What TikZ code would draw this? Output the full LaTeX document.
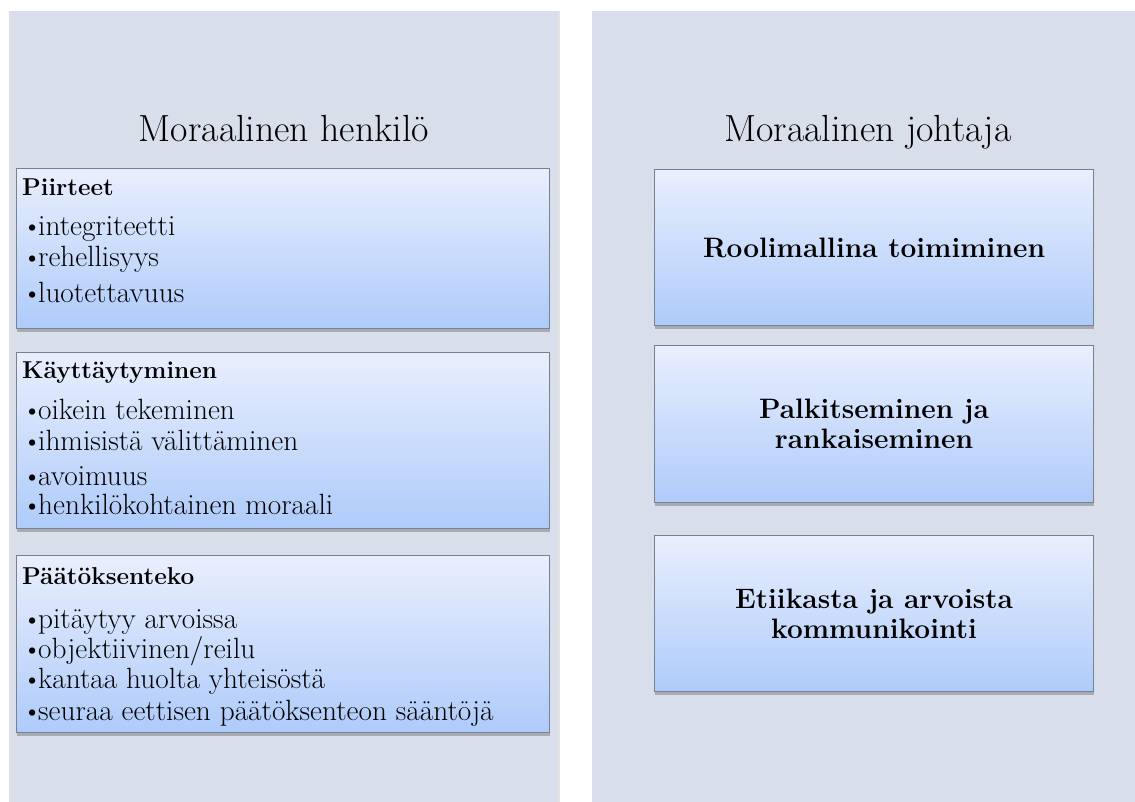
\documentclass[tikz,border=0pt]{standalone}
\usetikzlibrary{shadows}
\definecolor{panelbg}{RGB}{217,222,235}
\definecolor{boxtop}{RGB}{233,239,253}
\definecolor{boxbot}{RGB}{174,203,250}
\definecolor{boxline}{RGB}{122,129,142}
\tikzset{
  panel/.style={fill=panelbg, draw=none, inner sep=0pt, anchor=north west,
    drop shadow={shadow xshift=1.5pt, shadow yshift=0pt, opacity=.18, fill=black!60}},
  card/.style={draw=boxline, line width=1.1pt, top color=boxtop, bottom color=boxbot,
    inner sep=0pt, anchor=north west,
    drop shadow={shadow xshift=0.6pt, shadow yshift=-3pt, opacity=.35, fill=black!70}},
  ptitle/.style={font=\fontsize{37.8}{42}\selectfont, anchor=base, inner sep=0pt},
  hd/.style={font=\fontsize{24.4}{28}\selectfont\bfseries, anchor=base west, inner sep=0pt},
  bl/.style={font=\fontsize{29.3}{33}\selectfont, anchor=base west, inner sep=0pt},
  dotm/.style={font=\fontsize{28}{32}\selectfont, anchor=base west, inner sep=0pt},
  rtext/.style={font=\fontsize{28.1}{30}\selectfont\bfseries, align=center},
}
\begin{document}
\begin{tikzpicture}[x=1pt,y=-1pt]
\useasboundingbox (0,0) rectangle (1135,802);
\fill[white] (0,0) rectangle (1135,802);
% panels
\node[panel, minimum width=549pt, minimum height=800pt] (lp) at (9,11) {};
\node[panel, minimum width=560pt, minimum height=800pt] (rp) at (592,11) {};
% titles
\node[ptitle] (t1) at (284,142) {Moraalinen henkilö};
\node[ptitle] (t2) at (868,142) {Moraalinen johtaja};
% left cards
\node[card, minimum width=533pt, minimum height=160pt] (b1) at (16,168) {};
\node[card, minimum width=533pt, minimum height=176pt] (b2) at (16,352) {};
\node[card, minimum width=533pt, minimum height=177pt] (b3) at (16,555) {};
% Piirteet
\node[hd] (h1) at (22,196) {Piirteet};
\node[dotm] (d11) at (22,236) {\textbullet};
\node[bl] (l11) at (38,236) {integriteetti};
\node[dotm] (d12) at (22,267) {\textbullet};
\node[bl] (l12) at (38,267) {rehellisyys};
\node[dotm] (d13) at (22,302) {\textbullet};
\node[bl] (l13) at (38,302) {luotettavuus};
% Kayttaytyminen
\node[hd] (h2) at (22,378) {Käyttäytyminen};
\node[dotm] (d21) at (22,419) {\textbullet};
\node[bl] (l21) at (38,419) {oikein tekeminen};
\node[dotm] (d22) at (22,450) {\textbullet};
\node[bl] (l22) at (38,450) {ihmisistä välittäminen};
\node[dotm] (d23) at (22,485) {\textbullet};
\node[bl] (l23) at (38,485) {avoimuus};
\node[dotm] (d24) at (22,514) {\textbullet};
\node[bl] (l24) at (38,514) {henkilökohtainen moraali};
% Paatoksenteko
\node[hd] (h3) at (22,584) {Päätöksenteko};
\node[dotm] (d31) at (22,628) {\textbullet};
\node[bl] (l31) at (38,628) {pitäytyy arvoissa};
\node[dotm] (d32) at (22,658) {\textbullet};
\node[bl] (l32) at (38,658) {objektiivinen/reilu};
\node[dotm] (d33) at (22,688) {\textbullet};
\node[bl] (l33) at (38,688) {kantaa huolta yhteisöstä};
\node[dotm] (d34) at (22,720) {\textbullet};
\node[bl] (l34) at (38,720) {seuraa eettisen päätöksenteon sääntöjä};
% right cards
\node[card, minimum width=439pt, minimum height=156pt] (r1) at (654,169) {};
\node[card, minimum width=439pt, minimum height=157pt] (r2) at (654,345) {};
\node[card, minimum width=439pt, minimum height=156pt] (r3) at (654,535) {};
\node[rtext] (rt1) at (r1.center) {Roolimallina toimiminen};
\node[rtext] (rt2) at (r2.center) {Palkitseminen ja\\rankaiseminen};
\node[rtext] (rt3) at (r3.center) {Etiikasta ja arvoista\\kommunikointi};
\end{tikzpicture}
\end{document}
